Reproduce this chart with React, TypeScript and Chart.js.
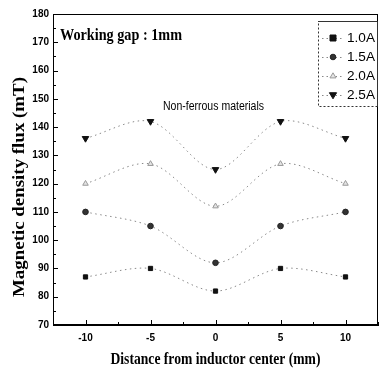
import React, { useEffect, useRef } from "react";
import { Chart, registerables } from "chart.js";

Chart.register(...registerables);

const xPositions = [-10, -5, 0, 5, 10];
const seriesLabels = ["1.0A", "1.5A", "2.0A", "2.5A"];
const flux10 = [87, 90, 82, 90, 87];
const flux15 = [110, 105, 92, 105, 110];
const flux20 = [120, 127, 112, 127, 120];
const flux25 = [136, 142, 125, 142, 136];
const xTickValues = [-10, -5, 0, 5, 10];
const yTickValues = [70, 80, 90, 100, 110, 120, 130, 140, 150, 160, 170, 180];
const xTitle = "Distance from inductor center (mm)";
const yTitle = "Magnetic density flux (mT)";
const noteGap = "Working gap : 1mm";
const noteMaterial = "Non-ferrous materials";

const seriesValues = [flux10, flux15, flux20, flux25];
const markerStyles = [
  { pointStyle: "rect", radius: 3, fill: "#111", stroke: "#111", rotation: 0 },
  { pointStyle: "circle", radius: 2.8, fill: "#333", stroke: "#222", rotation: 0 },
  { pointStyle: "triangle", radius: 3.2, fill: "#e4e4e4", stroke: "#9a9a9a", rotation: 0 },
  { pointStyle: "triangle", radius: 3.8, fill: "#111", stroke: "#111", rotation: 180 },
];

function fitText(ctx: CanvasRenderingContext2D, text: string, x: number, y: number, width: number, font: string, align: "left" | "center", rotate = 0) {
  ctx.save();
  ctx.font = font;
  const w = ctx.measureText(text).width;
  const s = width / w;
  ctx.translate(x, y);
  if (rotate) ctx.rotate(rotate);
  ctx.scale(s, 1);
  ctx.textAlign = align;
  ctx.textBaseline = "middle";
  ctx.fillStyle = "#000";
  ctx.fillText(text, 0, 0);
  ctx.restore();
}

function drawMarker(ctx: CanvasRenderingContext2D, m: any, x: number, y: number) {
  ctx.save();
  ctx.lineWidth = 1;
  ctx.fillStyle = m.fill;
  ctx.strokeStyle = m.stroke;
  ctx.beginPath();
  if (m.pointStyle === "rect") {
    ctx.rect(x - m.radius, y - m.radius, m.radius * 2, m.radius * 2);
  } else if (m.pointStyle === "circle") {
    ctx.arc(x, y, m.radius, 0, Math.PI * 2);
  } else {
    const r = m.radius;
    const dir = m.rotation === 180 ? 1 : -1;
    ctx.moveTo(x, y + dir * r);
    ctx.lineTo(x - r * 0.95, y - dir * r * 0.6);
    ctx.lineTo(x + r * 0.95, y - dir * r * 0.6);
    ctx.closePath();
  }
  ctx.fill();
  ctx.stroke();
  ctx.restore();
}

const decorPlugin = {
  id: "decor",
  afterDraw(chart: any) {
    const ctx: CanvasRenderingContext2D = chart.ctx;
    const { left, right, top, bottom } = chart.chartArea;
    const xs = chart.scales.x;
    const ys = chart.scales.y;
    ctx.save();
    ctx.strokeStyle = "#000";
    ctx.lineWidth = 1;
    ctx.strokeRect(left + 0.5, top + 0.5, right - left - 1, bottom - top - 1);
    ctx.beginPath();
    for (let v = 70; v <= 180; v += 5) {
      const py = Math.round(ys.getPixelForValue(v)) + 0.5;
      const len = v % 10 === 0 ? 5 : 3;
      ctx.moveTo(left, py);
      ctx.lineTo(left + len, py);
    }
    for (let v = -12.5; v <= 12.5; v += 2.5) {
      const px = Math.round(xs.getPixelForValue(v)) + 0.5;
      const len = v % 5 === 0 ? 5 : 3;
      ctx.moveTo(px, bottom);
      ctx.lineTo(px, bottom - len);
    }
    ctx.stroke();

    // legend
    const lx0 = 318, ly0 = 21, lx1 = 377, ly1 = 106;
    ctx.strokeStyle = "#333";
    ctx.beginPath();
    ctx.moveTo(lx0, ly0 + 0.5);
    ctx.lineTo(lx1 + 0.5, ly0 + 0.5);
    ctx.lineTo(lx1 + 0.5, ly1 + 0.5);
    ctx.stroke();
    ctx.setLineDash([2, 2]);
    ctx.beginPath();
    ctx.moveTo(lx1 + 0.5, ly1 + 0.5);
    ctx.lineTo(lx0 + 0.5, ly1 + 0.5);
    ctx.lineTo(lx0 + 0.5, ly0 + 0.5);
    ctx.stroke();
    ctx.setLineDash([]);
    seriesLabels.forEach((lab, i) => {
      const cy = 38 + i * 19;
      ctx.setLineDash([1.5, 3]);
      ctx.strokeStyle = "#888";
      ctx.beginPath();
      ctx.moveTo(322, cy + 0.5);
      ctx.lineTo(344, cy + 0.5);
      ctx.stroke();
      ctx.setLineDash([]);
      drawMarker(ctx, markerStyles[i], 333, cy);
      fitText(ctx, lab, 347, cy, 28, "13px 'Liberation Sans'", "left");
    });

    fitText(ctx, noteGap, 60, 36, 122, "bold 16px 'Liberation Serif'", "left");
    fitText(ctx, noteMaterial, xs.getPixelForValue(0) - 2, 107, 101, "12px 'Liberation Sans'", "center");
    fitText(ctx, xTitle, (left + right) / 2, 360, 210, "bold 17px 'Liberation Serif'", "center");
    fitText(ctx, yTitle, 20, 187, 220, "bold 17px 'Liberation Serif'", "center", -Math.PI / 2);
    ctx.restore();
  },
};

export default function App() {
  const ref = useRef<HTMLCanvasElement>(null);
  useEffect(() => {
    document.body.style.margin = "0";
    const canvas = ref.current!;
    const chart = new Chart(canvas, {
      type: "line",
      data: {
        datasets: seriesValues.map((vals, i) => ({
          label: seriesLabels[i],
          data: vals.map((v, j) => ({ x: xPositions[j], y: v })),
          borderColor: "#8a8a8a",
          borderWidth: 1,
          borderDash: [1.5, 3.5],
          tension: 0.32,
          fill: false,
          pointStyle: markerStyles[i].pointStyle as any,
          pointRadius: markerStyles[i].radius,
          pointRotation: markerStyles[i].rotation,
          pointBackgroundColor: markerStyles[i].fill,
          pointBorderColor: markerStyles[i].stroke,
          pointBorderWidth: 1,
        })),
      },
      options: {
        animation: false,
        responsive: false,
        devicePixelRatio: 1,
        layout: { padding: { top: 14, right: 3, left: 0, bottom: 0 } },
        plugins: { legend: { display: false }, tooltip: { enabled: false } },
        scales: {
          x: {
            type: "linear",
            min: -12.5,
            max: 12.5,
            afterBuildTicks: (s: any) => {
              s.ticks = xTickValues.map((v) => ({ value: v }));
            },
            afterFit: (s: any) => {
              s.height = 47;
            },
            grid: { drawOnChartArea: false, drawTicks: false },
            border: { display: true, color: "#000", width: 1 },
            ticks: {
              padding: 7,
              color: "#000",
              font: { family: "'Liberation Sans'", size: 10, weight: "bold" },
              callback: (v: any) => String(v),
            },
          },
          y: {
            type: "linear",
            min: 70,
            max: 180,
            afterBuildTicks: (s: any) => {
              s.ticks = yTickValues.map((v) => ({ value: v }));
            },
            afterFit: (s: any) => {
              s.width = 53;
            },
            grid: { drawOnChartArea: false, drawTicks: false },
            border: { display: true, color: "#000", width: 1 },
            ticks: {
              padding: 4,
              color: "#000",
              font: { family: "'Liberation Sans'", size: 10, weight: "bold" },
            },
          },
        },
      },
      plugins: [decorPlugin],
    });
    return () => chart.destroy();
  }, []);
  return <canvas ref={ref} width={383} height={372} style={{ display: "block" }} />;
}
